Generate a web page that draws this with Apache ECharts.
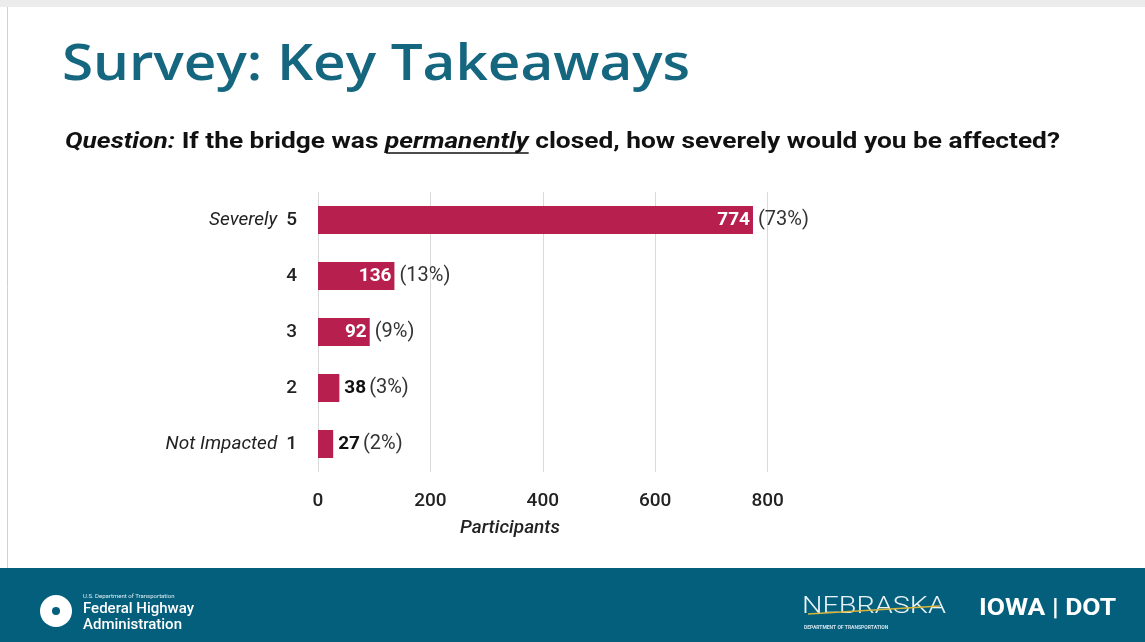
<!DOCTYPE html>
<html>
<head>
<meta charset="utf-8">
<script src="https://cdn.jsdelivr.net/npm/echarts@6/dist/echarts.min.js"></script>
<style>
  html, body { margin: 0; padding: 0; background: #fff; }
  #chart { width: 1145px; height: 642px; }
</style>
</head>
<body>
<div id="chart"></div>
<script>
// 数据
const categories = ['1', '2', '3', '4', '5'];
const catNames = ['Not Impacted', '', '', '', 'Severely'];
const participants = [27, 38, 92, 136, 774];
const percents = [2, 3, 9, 13, 73];
const xTicks = [0, 200, 400, 600, 800];

const barColor = '#b61f4e';
const teal = '#15667f';
const font = 'Roboto';

let myChart = echarts.init(document.getElementById('chart'));

// 大于 80 的值写在柱内
const inside = participants.map(v => v >= 80);

// 问题文字：分段排版，下划线跟随 "permanently"
const measureCtx = document.createElement('canvas').getContext('2d');
const qSegs = [
    { t: 'Question:', f: 'italic bold 22px Roboto' },
    { t: ' If the bridge was ', f: 'bold 22px Roboto' },
    { t: 'permanently', f: 'italic bold 22px Roboto', u: true },
    { t: ' closed, how severely would you be affected?', f: 'bold 22px Roboto' }
];
const qChildren = [];
let qx = 0;
qSegs.forEach(s => {
    measureCtx.font = s.f;
    const w = measureCtx.measureText(s.t).width;
    qChildren.push({ type: 'text', x: qx, y: 0, style: { text: s.t, font: s.f, fill: '#111', textVerticalAlign: 'middle' } });
    if (s.u) {
        qChildren.push({ type: 'line', shape: { x1: qx + 1, y1: 11, x2: qx + w, y2: 11 }, style: { stroke: '#111', lineWidth: 1.6 } });
    }
    qx += w;
});
const qScale = 995 / qx;

const option = {
    backgroundColor: '#ffffff',
    animation: false,
    textStyle: { fontFamily: font },
    graphic: [
        { type: 'rect', shape: { x: 0, y: 0, width: 1145, height: 7 }, style: { fill: '#ececec' }, silent: true },
        { type: 'line', shape: { x1: 7.5, y1: 7, x2: 7.5, y2: 568 }, style: { stroke: '#d0d0d0', lineWidth: 1 }, silent: true },
        {
            type: 'text', x: 62, y: 40, scaleX: 1.11,
            style: { text: 'Survey: Key Takeaways', font: '600 51px "Open Sans"', fill: teal }
        },
        {
            type: 'group', x: 65, y: 142, scaleX: qScale, silent: true,
            children: qChildren
        },
        // footer
        { type: 'rect', shape: { x: 0, y: 568, width: 1145, height: 74 }, style: { fill: '#045f7d' }, silent: true },
        { type: 'circle', shape: { cx: 56, cy: 611, r: 16 }, style: { fill: '#ffffff' }, silent: true },
        { type: 'circle', shape: { cx: 56, cy: 611, r: 4 }, style: { fill: '#045f7d' }, silent: true },
        {
            type: 'text', left: 83, top: 593,
            style: { text: 'U.S. Department of Transportation', font: '6px Roboto', fill: '#e0eef3' }
        },
        {
            type: 'text', left: 83, top: 601,
            style: { text: 'Federal Highway\nAdministration', font: '500 15px Roboto', fill: '#ffffff', lineHeight: 16 }
        },
        {
            type: 'text', x: 802, y: 595, scaleX: 1.2,
            style: { text: 'NEBRASKA', font: '300 24px Roboto', fill: '#e8f2f6' }
        },
        { type: 'line', shape: { x1: 808, y1: 614, x2: 940, y2: 606 }, style: { stroke: '#d8b43a', lineWidth: 1.5 }, silent: true },
        {
            type: 'text', left: 804, top: 625,
            style: { text: 'DEPARTMENT OF TRANSPORTATION', font: 'bold 5px Roboto', fill: '#d0e4ec' }
        },
        {
            type: 'text', x: 979, y: 598, scaleX: 1.15,
            style: { text: 'IOWA | DOT', font: 'bold 23px Roboto', fill: '#ffffff' }
        }
    ],
    grid: {
        left: 318,
        right: 265,
        top: 192,
        bottom: 170,
        containLabel: false
    },
    xAxis: {
        type: 'value',
        min: 0,
        max: 1000,
        interval: 200,
        name: 'Participants',
        nameLocation: 'middle',
        nameGap: 47,
        nameTextStyle: {
            fontFamily: font, fontStyle: 'italic', fontWeight: 500, fontSize: 19, color: '#222',
            padding: [0, 178, 0, 0]
        },
        axisLine: { show: false },
        axisTick: { show: false },
        axisLabel: {
            margin: 20,
            fontSize: 19,
            fontWeight: 500,
            color: '#222',
            formatter: v => (xTicks.indexOf(v) >= 0 ? String(v) : '')
        },
        splitLine: {
            lineStyle: { color: ['#d9d9d9', '#d9d9d9', '#d9d9d9', '#d9d9d9', '#d9d9d9', 'rgba(0,0,0,0)'], width: 1 }
        }
    },
    yAxis: {
        type: 'category',
        data: categories,
        axisLine: { show: false },
        axisTick: { show: false },
        axisLabel: {
            margin: 21,
            formatter: (v, i) => (catNames[i] ? '{n|' + catNames[i] + '}   {v|' + v + '}' : '{v|' + v + '}'),
            rich: {
                n: { fontFamily: font, fontStyle: 'italic', fontSize: 19, color: '#222' },
                v: { fontFamily: font, fontSize: 19, fontWeight: 500, color: '#222' }
            }
        }
    },
    series: [
        {
            name: 'Participants',
            type: 'bar',
            barWidth: 28,
            itemStyle: { color: barColor },
            data: participants.map((v, i) => ({
                value: v,
                label: {
                    show: inside[i],
                    position: 'insideRight',
                    distance: 3,
                    color: '#fff',
                    fontFamily: font,
                    fontWeight: 'bold',
                    fontSize: 19,
                    formatter: '{c}'
                }
            }))
        },
        {
            name: 'pct',
            type: 'bar',
            barWidth: 28,
            barGap: '-100%',
            itemStyle: { color: 'rgba(0,0,0,0)' },
            silent: true,
            data: participants.map((v, i) => ({
                value: v,
                label: {
                    show: true,
                    position: 'right',
                    distance: 5,
                    formatter: inside[i]
                        ? '{p|(' + percents[i] + '%)}'
                        : '{b|' + v + '} {p|(' + percents[i] + '%)}',
                    rich: {
                        b: { fontFamily: font, fontWeight: 'bold', fontSize: 19, color: '#111' },
                        p: { fontFamily: font, fontSize: 20, color: '#333' }
                    }
                }
            }))
        }
    ]
};

myChart.setOption(option);
</script>
</body>
</html>
